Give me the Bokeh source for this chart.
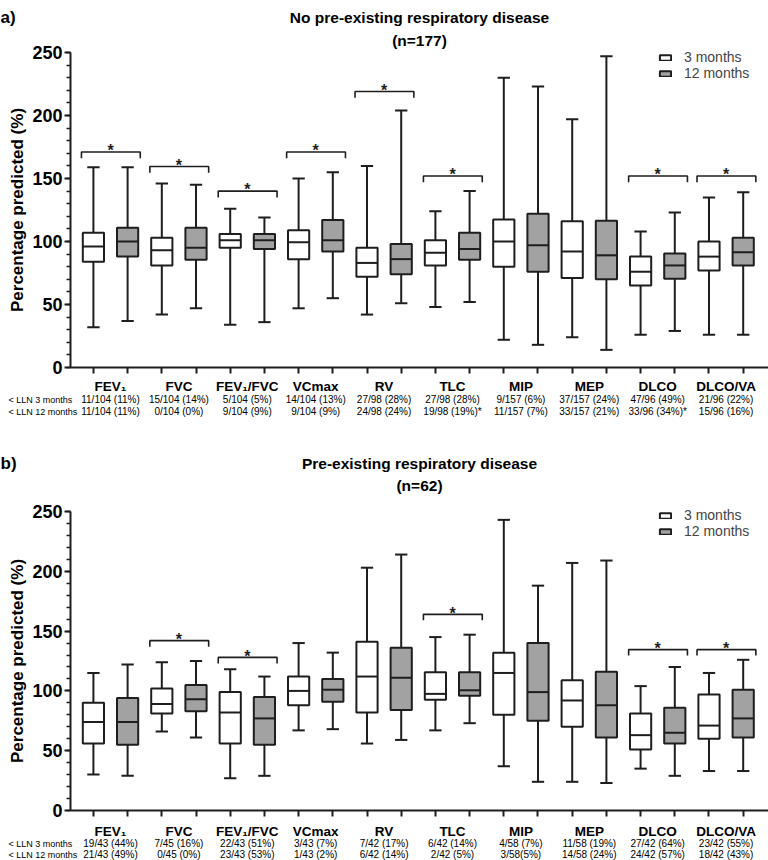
from bokeh.plotting import figure
from bokeh.models import (ColumnDataSource, Range1d, FixedTicker, SingleIntervalTicker,
                          Legend, LegendItem)
from bokeh.layouts import column
from bokeh.embed import file_html
from bokeh.resources import INLINE
from bokeh.core.properties import value

# ---------------- data ----------------
categories = ["FEV\u2081", "FVC", "FEV\u2081/FVC", "VCmax", "RV", "TLC", "MIP", "MEP", "DLCO", "DLCO/VA"]
series_names = ["3 months", "12 months"]

# Panel a: no pre-existing respiratory disease (n=177)
a_lo_3 = [32, 42, 34, 47, 42, 48, 22, 24, 26, 26]
a_q1_3 = [84, 81, 95, 86, 72, 81, 80, 71, 65, 77]
a_med_3 = [96, 93, 101, 99.5, 83, 91, 100, 92, 76, 88]
a_q3_3 = [107, 103, 106, 109, 95, 101, 117.5, 116, 88, 100]
a_hi_3 = [159, 146, 126, 150, 160, 124, 230, 197, 108, 135]

a_lo_12 = [37, 47, 36, 55, 51, 52, 18, 14, 29, 26]
a_q1_12 = [88, 85.5, 94, 92, 74, 85.5, 76, 70, 70.5, 81]
a_med_12 = [100, 95, 101, 101, 86, 94, 97, 89, 81, 91.5]
a_q3_12 = [111, 111, 106, 117, 98, 107, 122, 116.5, 90.5, 103]
a_hi_12 = [159, 145, 119, 155, 204, 140, 223, 247, 123, 139]

a_sig_idx = [0, 1, 2, 3, 4, 5, 8, 9]
a_sig_h = [171, 159.5, 140, 171, 219, 152, 152, 152]

a_lln_3 = ["11/104 (11%)", "15/104 (14%)", "5/104 (5%)", "14/104 (13%)", "27/98 (28%)",
           "27/98 (28%)", "9/157 (6%)", "37/157 (24%)", "47/96 (49%)", "21/96 (22%)"]
a_lln_12 = ["11/104 (11%)", "0/104 (0%)", "9/104 (9%)", "9/104 (9%)", "24/98 (24%)",
            "19/98 (19%)*", "11/157 (7%)", "33/157 (21%)", "33/96 (34%)*", "15/96 (16%)"]

# Panel b: pre-existing respiratory disease (n=62)
b_lo_3 = [30, 66, 27, 67, 56, 67, 37, 24, 35, 33]
b_q1_3 = [56, 81, 56, 88, 82, 92.5, 80, 70, 51, 60]
b_med_3 = [74, 89, 82, 100, 112, 97.5, 115, 92, 63, 71]
b_q3_3 = [90, 102, 99, 112, 141, 115.5, 132, 109, 81, 97]
b_hi_3 = [115, 124, 118, 140, 203, 145, 243, 207, 104, 115]

b_lo_12 = [29, 61, 29, 68, 59, 73, 24, 23, 29, 33]
b_q1_12 = [55, 83, 55, 91, 84, 96, 75, 61, 56, 61]
b_med_12 = [74, 93, 77, 101, 111, 100.5, 99, 88, 65, 77]
b_q3_12 = [94, 105, 95, 110, 136, 115.5, 140, 116, 86, 101]
b_hi_12 = [122, 125, 112, 132, 214, 147, 188, 209, 120, 126]

b_sig_idx = [1, 2, 5, 8, 9]
b_sig_h = [142, 128, 164, 134.5, 134.5]

b_lln_3 = ["19/43 (44%)", "7/45 (16%)", "22/43 (51%)", "3/43 (7%)", "7/42 (17%)",
           "6/42 (14%)", "4/58 (7%)", "11/58 (19%)", "27/42 (64%)", "23/42 (55%)"]
b_lln_12 = ["21/43 (49%)", "0/45 (0%)", "23/43 (53%)", "1/43 (2%)", "6/42 (14%)",
            "2/42 (5%)", "3/58(5%)", "14/58 (24%)", "24/42 (57%)", "18/42 (43%)"]

row_headers = ["< LLN 3 months", "< LLN 12 months"]
y_tick_interval = 50

# ---------------- style ----------------
FONT = "Liberation Sans"
LINE = "#1e1e1e"
GREY = "#a2a2a2"
W = 768
AX_LEFT_PX = 70          # figure px where the y axis sits
X_AXIS, X_END = -0.67, 19.74
Y_MIN, Y_MAX = 0, 250
BOX_W = 0.62
CAP_W = 0.36


def make_panel(tag, title1, title2, stats3, stats12, sig_idx, sig_h, lln3, lln12,
               height, top, bottom, t1_px, t2_px, legend_row1_px, below_px):
    xppu = (W - AX_LEFT_PX) / (X_END - X_AXIS)
    x0 = X_AXIS - AX_LEFT_PX / xppu
    frame_h = height - top - bottom
    ppu = frame_h / (Y_MAX - Y_MIN)
    y1 = Y_MAX + top / ppu
    y0 = Y_MIN - bottom / ppu

    def fy(px_from_top):
        return y1 - px_from_top / ppu

    def fx(px_from_left):
        return x0 + px_from_left / xppu

    p = figure(width=W, height=height, x_range=Range1d(x0, X_END),
               y_range=Range1d(y0, y1), output_backend="svg",
               toolbar_location=None, min_border=0)
    p.outline_line_color = None
    p.grid.visible = False
    p.background_fill_color = "white"

    n = len(categories)
    renderers = []
    for k, (stats, fill) in enumerate([(stats3, "white"), (stats12, GREY)]):
        lo, q1, med, q3, hi = stats
        xs = [2 * i + k for i in range(n)]
        src = ColumnDataSource(dict(
            x=xs, lo=lo, q1=q1, med=med, q3=q3, hi=hi,
            xl=[x - BOX_W / 2 for x in xs], xr=[x + BOX_W / 2 for x in xs],
            cl=[x - CAP_W / 2 for x in xs], cr=[x + CAP_W / 2 for x in xs]))
        kw = dict(source=src, line_color=LINE, line_width=2)
        p.segment(x0="x", y0="q3", x1="x", y1="hi", **kw)
        p.segment(x0="x", y0="q1", x1="x", y1="lo", **kw)
        p.segment(x0="cl", y0="hi", x1="cr", y1="hi", **kw)
        p.segment(x0="cl", y0="lo", x1="cr", y1="lo", **kw)
        r = p.vbar(x="x", top="q3", bottom="q1", width=BOX_W, fill_color=fill, **kw)
        p.segment(x0="xl", y0="med", x1="xr", y1="med", **kw)
        renderers.append(r)

    # significance brackets
    bx = [[2 * i - 0.35, 2 * i - 0.35, 2 * i + 1.37, 2 * i + 1.37] for i in sig_idx]
    by = [[h - 5, h, h, h - 5] for h in sig_h]
    p.multi_line(bx, by, line_color=LINE, line_width=1.6)
    p.text(x=[2 * i + 0.5 for i in sig_idx], y=[h + 1 for h in sig_h],
           text=["*"] * len(sig_idx), text_font=value(FONT), text_font_size="16px",
           text_font_style="bold", text_align="center", text_baseline="alphabetic",
           text_color=LINE)

    # x axis at y = 0: box ticks as minor ticks, category names as major labels
    cx = [2 * i + 0.5 for i in range(n)]
    xa = p.xaxis[0]
    xa.fixed_location = 0
    xa.bounds = (X_AXIS, X_END)
    xa.ticker = FixedTicker(ticks=cx, minor_ticks=list(range(2 * n)))
    xa.major_label_overrides = {c: t for c, t in zip(cx, categories)}
    xa.major_label_text_font = FONT
    xa.major_label_text_font_size = "13.5px"
    xa.major_label_text_font_style = "bold"
    xa.major_label_text_color = "black"
    xa.major_label_standoff = below_px[0] - 11
    xa.major_tick_out = 0
    xa.major_tick_in = 0
    xa.major_tick_line_color = None
    xa.minor_tick_out = 6
    xa.minor_tick_in = 0
    xa.minor_tick_line_width = 2
    xa.minor_tick_line_color = LINE
    xa.axis_line_width = 2
    xa.axis_line_color = LINE

    # y axis at the left of the boxes
    ya = p.yaxis[0]
    ya.fixed_location = X_AXIS
    ya.bounds = (Y_MIN, Y_MAX)
    ya.ticker = SingleIntervalTicker(interval=y_tick_interval, num_minor_ticks=5)
    ya.axis_label = "Percentage predicted (%)"
    ya.axis_label_text_font = FONT
    ya.axis_label_text_font_size = "17px"
    ya.axis_label_text_font_style = "bold"
    ya.axis_label_text_color = "black"
    ya.axis_label_standoff = 2
    ya.major_label_text_font = FONT
    ya.major_label_text_font_size = "18px"
    ya.major_label_text_font_style = "bold"
    ya.major_label_text_color = "black"
    ya.major_label_standoff = 2
    ya.major_tick_out = 6
    ya.major_tick_in = 0
    ya.minor_tick_out = 4
    ya.minor_tick_in = 0
    ya.axis_line_width = 2
    ya.axis_line_color = LINE
    ya.major_tick_line_width = 2
    ya.major_tick_line_color = LINE
    ya.minor_tick_line_width = 1.5
    ya.minor_tick_line_color = LINE

    # titles
    xc = (X_AXIS + X_END) / 2
    p.text(x=[fx(0)], y=[fy(t1_px)], text=[tag], text_font=value(FONT),
           text_font_size="17px", text_font_style="bold", text_align="left",
           text_baseline="middle", text_color="black")
    p.text(x=[xc, xc], y=[fy(t1_px), fy(t2_px)], text=[title1, title2],
           text_font=value(FONT), text_font_size="15.5px", text_font_style="bold",
           text_align="center", text_baseline="middle", text_color="black")

    # table of < LLN counts
    axis_px = top + frame_h
    r1, r2 = fy(axis_px + below_px[1]), fy(axis_px + below_px[2])
    tab_src = ColumnDataSource(dict(x=cx + cx, y=[r1] * n + [r2] * n,
                                    t=list(lln3) + list(lln12)))
    p.text(x="x", y="y", text="t", source=tab_src, text_font=value(FONT),
           text_font_size="10px", text_align="center", text_baseline="middle",
           text_color="black")
    p.text(x=[fx(8), fx(8)], y=[r1, r2], text=row_headers, text_font=value(FONT),
           text_font_size="9px", text_align="left", text_baseline="middle",
           text_color="black")

    legend = Legend(items=[LegendItem(label=series_names[0], renderers=[renderers[0]]),
                           LegendItem(label=series_names[1], renderers=[renderers[1]])],
                    location=(658, height - (legend_row1_px - 2 + 26)), border_line_color=None,
                    background_fill_alpha=0, glyph_width=14, glyph_height=7,
                    label_standoff=12, label_text_font=FONT, label_text_font_size="14px",
                    label_height=14, spacing=0, padding=2, margin=0)
    p.add_layout(legend)
    return p


pa = make_panel("a)", "No pre-existing respiratory disease", "(n=177)",
                (a_lo_3, a_q1_3, a_med_3, a_q3_3, a_hi_3),
                (a_lo_12, a_q1_12, a_med_12, a_q3_12, a_hi_12),
                a_sig_idx, a_sig_h, a_lln_3, a_lln_12,
                height=430, top=52, bottom=63, t1_px=17, t2_px=40,
                legend_row1_px=57, below_px=(16, 32, 44))
pb = make_panel("b)", "Pre-existing respiratory disease", "(n=62)",
                (b_lo_3, b_q1_3, b_med_3, b_q3_3, b_hi_3),
                (b_lo_12, b_q1_12, b_med_12, b_q3_12, b_hi_12),
                b_sig_idx, b_sig_h, b_lln_3, b_lln_12,
                height=430, top=81, bottom=50, t1_px=33, t2_px=55,
                legend_row1_px=85, below_px=(18, 33, 44))

layout = column(pa, pb, spacing=0)
open("out.html", "w").write(file_html(layout, INLINE))
